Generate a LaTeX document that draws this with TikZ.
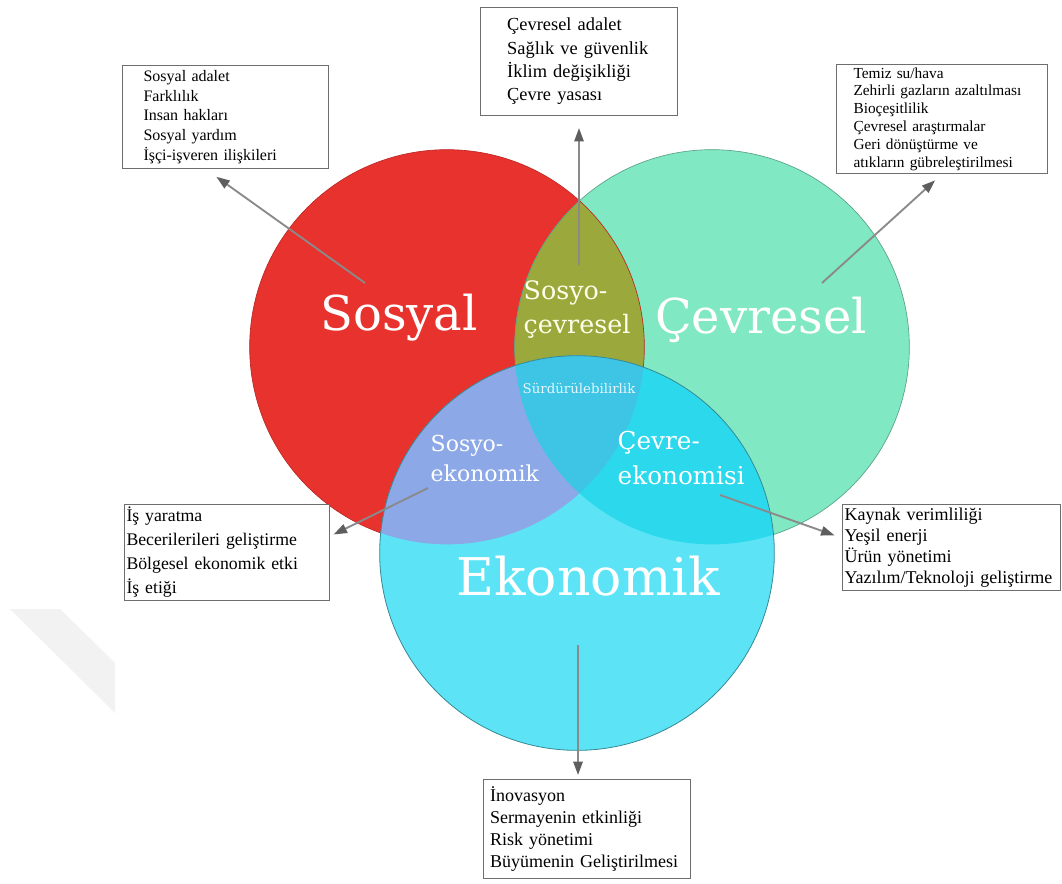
\documentclass[tikz,border=0pt]{standalone}
\usepackage{fontspec}
\usepackage{xcolor}
\usepackage{tikz}
\usetikzlibrary{arrows.meta}
\setmainfont{Liberation Serif}
\newfontfamily\circleFont{DejaVu Serif}

\definecolor{sosRed}{HTML}{E8322E}
\definecolor{cevGreen}{HTML}{80E8C2}
\definecolor{ekoBlue}{HTML}{5CE4F6}
\definecolor{sosCevOlive}{HTML}{9BA83C}
\definecolor{sosEkoBlue}{HTML}{8CA8E6}
\definecolor{cevEkoCyan}{HTML}{2CD8EC}
\definecolor{coreBlue}{HTML}{3EC4E4}
\definecolor{boxGray}{HTML}{6E6E6E}
\definecolor{arrowGray}{HTML}{8A8A8A}
\definecolor{tipGray}{HTML}{5E5E5E}

\tikzset{
    listBox/.style={
        draw=boxGray,
        fill=white,
        line width=0.8pt,
        anchor=north west,
        align=left,
        inner ysep=0pt,
        execute at begin node={\hyphenpenalty=10000}
    },
    bigLabel/.style={
        text=white,
        font=\circleFont\fontsize{36}{40}\selectfont
    },
    pairLabel/.style={
        text=white,
        anchor=west,
        align=left
    },
    pointer/.style={
        draw=arrowGray,
        line width=1.4pt,
        -{Triangle[length=10pt,width=7pt,color=tipGray]}
    }
}

\begin{document}
\begin{tikzpicture}[x=0.75pt,y=-0.75pt]

        % Fondo
        \fill[white] (0,0) rectangle (1062,883);
        \useasboundingbox (0,0) rectangle (1062,883);
        \fill[gray!10] (10,609) -- (60,609) -- (115,663) -- (115,713) -- cycle;

        % Centros
        \coordinate (sosC) at (447,347);
        \coordinate (cevC) at (712,347);
        \coordinate (ekoC) at (577,553);

        % =====================================================
        % CIRCULOS
        % =====================================================

        \fill[sosRed] (sosC) circle[radius=148pt];
        \fill[cevGreen] (cevC) circle[radius=148pt];
        \begin{scope}
            \clip (sosC) circle[radius=148pt];
            \fill[sosCevOlive] (cevC) circle[radius=148pt];
        \end{scope}
        \draw[sosRed!80!black, line width=0.5pt] (sosC) circle[radius=148pt];
        \draw[cevGreen!70!black, line width=0.5pt] (cevC) circle[radius=148pt];

        \fill[ekoBlue] (ekoC) circle[radius=148pt];
        \begin{scope}
            \clip (ekoC) circle[radius=148pt];
            \fill[sosEkoBlue] (sosC) circle[radius=148pt];
            \fill[cevEkoCyan] (cevC) circle[radius=148pt];
            \clip (sosC) circle[radius=148pt];
            \fill[coreBlue] (cevC) circle[radius=148pt];
        \end{scope}
        \draw[ekoBlue!60!black, line width=0.6pt] (ekoC) circle[radius=148pt];

        % Etiquetas
        \node[bigLabel] (sosLabel) at (399,318) {Sosyal};
        \node[bigLabel] (cevLabel) at (761,320) {Çevresel};
        \node[
            bigLabel,
            font=\circleFont\fontsize{39}{42}\selectfont
        ] (ekoLabel) at (588,576) {Ekonomik};

        \node[
            pairLabel,
            text=white!92!yellow,
            font=\circleFont\fontsize{19}{25.5}\selectfont
        ] (sosCevLabel) at (519,310) {Sosyo-\\çevresel};

        \node[
            pairLabel,
            font=\circleFont\fontsize{16.5}{22.5}\selectfont
        ] (sosEkoLabel) at (426,458) {Sosyo-\\ekonomik};

        \node[
            pairLabel,
            font=\circleFont\fontsize{18.5}{26}\selectfont
        ] (cevEkoLabel) at (613,458) {Çevre-\\ekonomisi};

        \node[
            text=white!90!cyan,
            font=\circleFont\fontsize{10}{12}\selectfont
        ] (coreLabel) at (579,388) {Sürdürülebilirlik};

        % =====================================================
        % CUADROS
        % =====================================================

        \node[
            listBox,
            text width=123pt,
            inner xsep=15.75pt,
            minimum height=77.25pt,
            font=\fontsize{12}{14.8}\selectfont
        ] (sosBox) at (122,65) {
            Sosyal adalet\\
            Farklılık\\
            Insan hakları\\
            Sosyal yardım\\
            İşçi-işveren ilişkileri
        };

        \node[
            listBox,
            text width=107.75pt,
            inner xsep=20pt,
            minimum height=81pt,
            font=\fontsize{13.8}{17.5}\selectfont
        ] (cevBox) at (480,7) {
            Çevresel adalet\\
            Sağlık ve güvenlik\\
            İklim değişikliği\\
            Çevre yasası
        };

        \node[
            listBox,
            text width=132.75pt,
            inner xsep=12.75pt,
            minimum height=81.75pt,
            font=\fontsize{11.5}{13.4}\selectfont
        ] (cvrBox) at (836,64) {
            Temiz su/hava\\
            Zehirli gazların azaltılması\\
            Bioçeşitlilik\\
            Çevresel araştırmalar\\
            Geri dönüştürme ve\\
            atıkların gübreleştirilmesi
        };

        \node[
            listBox,
            text width=150.75pt,
            inner xsep=1.5pt,
            minimum height=72pt,
            font=\fontsize{13.3}{18}\selectfont
        ] (sekBox) at (124,504) {
            İş yaratma\\
            Becerilerileri geliştirme\\
            Bölgesel ekonomik etki\\
            İş etiği
        };

        \node[
            listBox,
            text width=160.5pt,
            inner xsep=1.5pt,
            minimum height=64.5pt,
            font=\fontsize{13.5}{15.75}\selectfont
        ] (cekBox) at (842,504) {
            Kaynak verimliliği\\
            Yeşil enerji\\
            Ürün yönetimi\\
            Yazılım/Teknoloji geliştirme
        };

        \node[
            listBox,
            text width=145.25pt,
            inner xsep=5pt,
            minimum height=74.25pt,
            font=\fontsize{13.5}{16.3}\selectfont
        ] (ekoBox) at (483,779) {
            İnovasyon\\
            Sermayenin etkinliği\\
            Risk yönetimi\\
            Büyümenin Geliştirilmesi
        };

        % =====================================================
        % FLECHAS
        % =====================================================

        \coordinate (sosTail) at (365,283);
        \coordinate (cevTail) at (579,265);
        \coordinate (cvrTail) at (822,283);
        \coordinate (sekTail) at (428,488);
        \coordinate (cekTail) at (720,495);
        \coordinate (ekoTail) at (578,645);

        \draw[pointer, shorten >=10pt] (sosTail) -- ([xshift=-15pt]sosBox.south);
        \draw[pointer, shorten >=9pt] (cevTail) -- (cevBox.south -| cevTail);
        \draw[pointer, shorten >=7pt] (cvrTail) -- (cvrBox.south);
        \draw[pointer, shorten >=3pt] (sekTail) -- (sekBox.9);
        \draw[pointer, shorten >=6pt] (cekTail) -- (cekBox.175);
        \draw[pointer, shorten >=3pt] (ekoTail) -- (ekoBox.north -| ekoTail);

    \end{tikzpicture}
\end{document}
